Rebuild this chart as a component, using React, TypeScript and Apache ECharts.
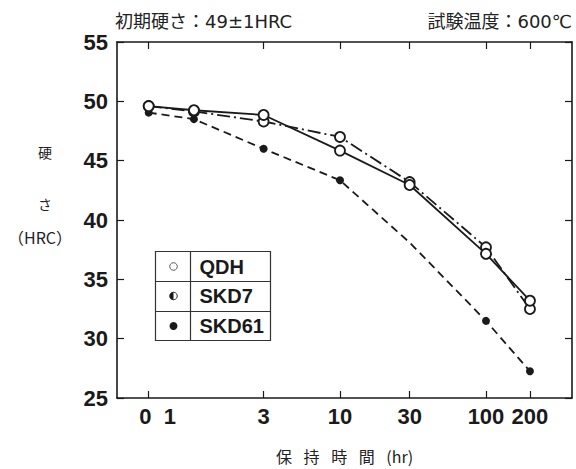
import React, { useEffect, useRef } from "react";
import * as echarts from "echarts";

// ---- data ----
const hours = [0, 1, 3, 10, 30, 100, 200];
const qdhHardness = [49.6, 49.25, 48.85, 45.85, 42.95, 37.15, 33.2];
const skd7Hardness = [49.6, 49.15, 48.3, 47.0, 43.2, 37.7, 32.5];
const skd61Hardness = [49.05, 48.5, 46.0, 43.35, 38.1, 31.5, 27.25];
const skd61Marked = [true, true, true, true, false, true, true];

const seriesNames = ["QDH", "SKD7", "SKD61"];
const tickHours = [0, 3, 10, 30, 100, 200];
const tickLabels = ["0  1", "3", "10", "30", "100", "200"];
const yTicks = [25, 30, 35, 40, 45, 50, 55];

const titleLeft = "初期硬さ：49±1HRC";
const titleRight = "試験温度：600℃";
const xName = "保\u2002 持\u2002 時\u2002 間\u2002 (hr)";
const yNameParts = ["硬", "さ", "（HRC）"];

// x axis: logarithmic hours, the 0 h point drawn just left of 1 h
const ZERO_POS = -0.31;
const xPos = (h: number) => (h === 0 ? ZERO_POS : Math.log10(h));

const INK = "#1a1a1a";
const NUM_FONT = "'Liberation Sans', Arial, sans-serif";
const CJK_FONT = "'Noto Sans CJK JP', 'Noto Sans', sans-serif";
const TITLE_FONT = "'DejaVu Sans', 'Noto Sans CJK JP', sans-serif";

export default function App() {
  const ref = useRef<HTMLDivElement>(null);
  useEffect(() => {
    document.body.style.margin = "0";
    if (!ref.current) return;
    const chart = echarts.init(ref.current, null, { renderer: "svg" });

    const tickVals = tickHours.map(xPos);
    const labelFor = (v: number) => {
      let best = 0;
      tickVals.forEach((t, i) => {
        if (Math.abs(t - v) < Math.abs(tickVals[best] - v)) best = i;
      });
      return best;
    };

    const openSym = {
      symbol: "circle",
      symbolSize: 10,
      itemStyle: { color: "#ffffff", borderColor: INK, borderWidth: 1.8 },
    };

    const frameAxisLine = { show: true, onZero: false, lineStyle: { color: INK, width: 1.6 } };
    const innerTick = { show: true, inside: true, length: 7, lineStyle: { color: INK, width: 1.2 } };

    const option: any = {
      animation: false,
      backgroundColor: "#ffffff",
      title: [
        {
          text: titleLeft,
          left: 115,
          top: 12,
          padding: 0,
          textStyle: { fontSize: 18, fontWeight: "normal", fontFamily: TITLE_FONT, color: "#222" },
        },
        {
          text: titleRight,
          right: 4,
          top: 12,
          padding: 0,
          textStyle: { fontSize: 18, fontWeight: "normal", fontFamily: TITLE_FONT, color: "#222" },
        },
      ],
      grid: { left: 117, right: 4, top: 42, bottom: 71, containLabel: false },
      xAxis: [
        {
          type: "value",
          position: "bottom",
          min: -0.527,
          max: 2.589,
          name: xName,
          nameLocation: "middle",
          nameGap: 50,
          nameTextStyle: { fontFamily: CJK_FONT, fontSize: 16, color: "#222" },
          axisLine: frameAxisLine,
          axisTick: { ...innerTick, customValues: tickVals },
          axisLabel: {
            customValues: tickVals,
            showMinLabel: true,
            showMaxLabel: true,
            hideOverlap: false,
            margin: 7,
            color: INK,
            fontFamily: NUM_FONT,
            fontWeight: "bold",
            fontSize: 22,
            formatter: (v: number) => {
              const i = labelFor(v);
              return i === 0 ? "{z|" + tickLabels[0] + "}" : tickLabels[i];
            },
            rich: {
              z: { padding: [0, 0, 0, 18], fontFamily: NUM_FONT, fontWeight: "bold", fontSize: 22, color: INK },
            },
          },
          splitLine: { show: false },
        },
        {
          type: "value",
          position: "top",
          min: -0.527,
          max: 2.589,
          axisLine: frameAxisLine,
          axisTick: { ...innerTick, customValues: tickVals },
          axisLabel: { show: false },
          splitLine: { show: false },
        },
      ],
      yAxis: [
        {
          type: "value",
          position: "left",
          min: yTicks[0],
          max: yTicks[yTicks.length - 1],
          interval: 5,
          axisLine: frameAxisLine,
          axisTick: innerTick,
          axisLabel: {
            margin: 9,
            color: INK,
            fontFamily: NUM_FONT,
            fontWeight: "bold",
            fontSize: 22,
            showMinLabel: true,
            showMaxLabel: true,
          },
          splitLine: { show: false },
        },
        {
          type: "value",
          position: "right",
          min: yTicks[0],
          max: yTicks[yTicks.length - 1],
          interval: 5,
          axisLine: frameAxisLine,
          axisTick: innerTick,
          axisLabel: { show: false },
          splitLine: { show: false },
        },
      ],
      series: [
        {
          name: seriesNames[2],
          type: "line",
          z: 2,
          data: hours.map((h, i) =>
            skd61Marked[i]
              ? { value: [xPos(h), skd61Hardness[i]] }
              : { value: [xPos(h), skd61Hardness[i]], symbol: "none" }
          ),
          symbol: "circle",
          symbolSize: 8,
          itemStyle: { color: INK },
          lineStyle: { color: INK, width: 1.8, type: [8, 5] },
        },
        {
          name: seriesNames[1],
          type: "line",
          z: 3,
          data: hours.map((h, i) => [xPos(h), skd7Hardness[i]]),
          ...openSym,
          lineStyle: { color: INK, width: 1.8, type: [13, 4, 2, 4] },
        },
        {
          name: seriesNames[0],
          type: "line",
          z: 4,
          data: hours.map((h, i) => [xPos(h), qdhHardness[i]]),
          ...openSym,
          lineStyle: { color: INK, width: 1.8, type: "solid" },
        },
      ],
      graphic: [
        // y-axis name
        ...yNameParts.map((t, i) => ({
          type: "text",
          x: [45, 45, 40][i],
          y: [152, 204, 237][i],
          style: {
            text: t,
            fontFamily: CJK_FONT,
            fontSize: i === 2 ? 16 : 14,
            fill: "#222",
            align: "center",
            verticalAlign: "middle",
          },
        })),
        // legend table
        {
          type: "group",
          left: 153,
          top: 249,
          children: [
            { type: "rect", shape: { x: 0, y: 0, width: 115, height: 89 }, style: { fill: "#fff", stroke: "#333", lineWidth: 1.2 } },
            { type: "line", shape: { x1: 35, y1: 0, x2: 35, y2: 89 }, style: { stroke: "#333", lineWidth: 1.2 } },
            { type: "line", shape: { x1: 0, y1: 30, x2: 115, y2: 30 }, style: { stroke: "#333", lineWidth: 1.2 } },
            { type: "line", shape: { x1: 0, y1: 60, x2: 115, y2: 60 }, style: { stroke: "#333", lineWidth: 1.2 } },
            { type: "circle", shape: { cx: 18, cy: 15, r: 3.8 }, style: { fill: "#fff", stroke: "#555", lineWidth: 1 } },
            { type: "circle", shape: { cx: 18, cy: 44.5, r: 3.8 }, style: { fill: "#fff", stroke: "#333", lineWidth: 1 } },
            {
              type: "sector",
              shape: { cx: 18, cy: 44.5, r: 3.8, r0: 0, startAngle: Math.PI / 2, endAngle: (3 * Math.PI) / 2 },
              style: { fill: INK },
            },
            { type: "circle", shape: { cx: 18, cy: 74.5, r: 4 }, style: { fill: INK } },
            ...seriesNames.map((n, i) => ({
              type: "text",
              x: 44,
              y: 15 + i * 29.7,
              style: {
                text: n,
                fontFamily: "'Liberation Sans', Arial, sans-serif",
                fontWeight: "bold",
                fontSize: 20,
                fill: INK,
                verticalAlign: "middle",
              },
            })),
          ],
        },
      ],
    };
    chart.setOption(option);
    return () => chart.dispose();
  }, []);
  return <div ref={ref} style={{ width: 576, height: 469 }} />;
}
